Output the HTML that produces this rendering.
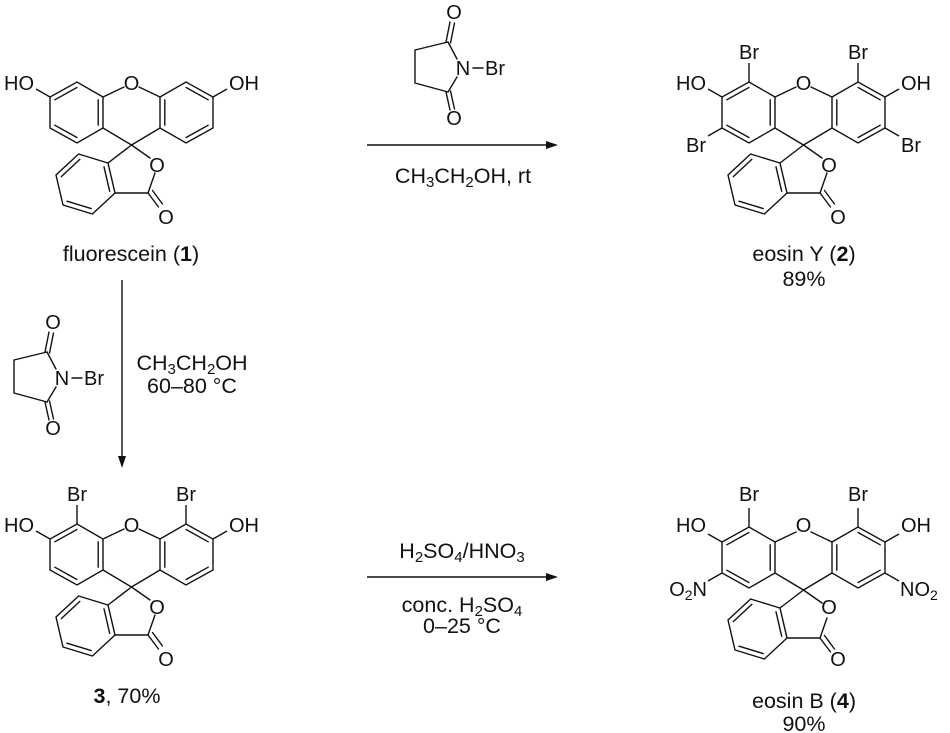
<!DOCTYPE html>
<html><head><meta charset="utf-8"><style>
html,body{margin:0;padding:0;background:#fff;}
svg{display:block;}
text{font-family:"Liberation Sans",sans-serif;font-size:20px;fill:#111;}
.l{font-size:21.5px;}
</style></head><body>
<svg width="950" height="733" viewBox="0 0 950 733" xmlns="http://www.w3.org/2000/svg">
<defs>
<g id="core" stroke="#111" stroke-width="1.4" fill="none" stroke-linecap="round">
<polyline points="103,97 77,82 50,97 50,128 77,143 103,128 103,97"/>
<polyline points="160,97 186,82 213,97 213,128 186,143 160,128 160,97"/>
<line x1="103" y1="97" x2="124" y2="87"/>
<line x1="160" y1="97" x2="139" y2="87"/>
<polyline points="103,128 131.5,145 160,128"/>
<line x1="54.8" y1="99.8" x2="76.9" y2="87.5"/>
<line x1="98.2" y1="99.8" x2="98.2" y2="125.2"/>
<line x1="76.9" y1="137.5" x2="54.8" y2="125.2"/>
<line x1="208.2" y1="99.8" x2="186.1" y2="87.5"/>
<line x1="164.8" y1="99.8" x2="164.8" y2="125.2"/>
<line x1="186.1" y1="137.5" x2="208.2" y2="125.2"/>
<line x1="131.5" y1="145" x2="150" y2="158"/>
<line x1="155" y1="173" x2="148" y2="193"/>
<polyline points="148,193 115,193 108,163 131.5,145"/>
<polyline points="108,163 78.6,154 56,175 63,205 92.4,214 115,193"/>
<line x1="104" y1="166.8" x2="109.7" y2="191.4"/>
<line x1="91.2" y1="208.6" x2="67" y2="201.2"/>
<line x1="61.3" y1="176.6" x2="79.8" y2="159.4"/>
<line x1="148" y1="193" x2="158.5" y2="207"/>
<line x1="152.5" y1="190.5" x2="162.5" y2="204"/>
</g>
<g id="nbs" stroke="#111" stroke-width="1.4" fill="none" stroke-linecap="round">
<line x1="446" y1="42" x2="450" y2="22"/>
<line x1="450.5" y1="43" x2="454.5" y2="23"/>
<line x1="446" y1="92" x2="450" y2="110"/>
<line x1="450.5" y1="91" x2="454.5" y2="109"/>
<line x1="448" y1="42" x2="457" y2="59"/>
<line x1="457" y1="77" x2="448" y2="92"/>
<polyline points="448,92 415,83 415,50 448,42"/>
<line x1="473" y1="68" x2="483" y2="68"/>
</g>
</defs>

<!-- molecule 1 -->
<use href="#core"/>
<line x1="50" y1="97" x2="36" y2="89" stroke="#111" stroke-width="1.4"/>
<line x1="213" y1="97" x2="227" y2="89" stroke="#111" stroke-width="1.4"/>
<text x="34" y="90" text-anchor="end">HO</text>
<text x="229" y="90">OH</text>
<text x="131.5" y="90" text-anchor="middle">O</text>
<text x="157" y="172" text-anchor="middle">O</text>
<text x="166" y="224" text-anchor="middle">O</text>
<text class="l" x="131" y="261" text-anchor="middle">fluorescein (<tspan font-weight="bold">1</tspan>)</text>

<!-- molecule 2 -->
<g transform="translate(672,0)">
<use href="#core"/>
<g stroke="#111" stroke-width="1.4">
<line x1="50" y1="97" x2="36" y2="89"/><line x1="213" y1="97" x2="227" y2="89"/>
<line x1="77" y1="82" x2="77" y2="63"/><line x1="186" y1="82" x2="186" y2="63"/>
<line x1="50" y1="128" x2="36" y2="136"/><line x1="213" y1="128" x2="227" y2="136"/>
</g>
<text x="34" y="90" text-anchor="end">HO</text>
<text x="229" y="90">OH</text>
<text x="77" y="59" text-anchor="middle">Br</text>
<text x="186" y="59" text-anchor="middle">Br</text>
<text x="34" y="152" text-anchor="end">Br</text>
<text x="229" y="152">Br</text>
<text x="131.5" y="90" text-anchor="middle">O</text>
<text x="157" y="172" text-anchor="middle">O</text>
<text x="166" y="224" text-anchor="middle">O</text>
<text class="l" x="132" y="261" text-anchor="middle">eosin Y (<tspan font-weight="bold">2</tspan>)</text>
<text class="l" x="132" y="286" text-anchor="middle">89%</text>
</g>

<!-- molecule 3 -->
<g transform="translate(0,442)">
<use href="#core"/>
<g stroke="#111" stroke-width="1.4">
<line x1="50" y1="97" x2="36" y2="89"/><line x1="213" y1="97" x2="227" y2="89"/>
<line x1="77" y1="82" x2="77" y2="63"/><line x1="186" y1="82" x2="186" y2="63"/>
</g>
<text x="34" y="90" text-anchor="end">HO</text>
<text x="229" y="90">OH</text>
<text x="77" y="59" text-anchor="middle">Br</text>
<text x="186" y="59" text-anchor="middle">Br</text>
<text x="131.5" y="90" text-anchor="middle">O</text>
<text x="157" y="172" text-anchor="middle">O</text>
<text x="166" y="224" text-anchor="middle">O</text>
<text class="l" x="127" y="261" text-anchor="middle"><tspan font-weight="bold">3</tspan>, 70%</text>
</g>

<!-- molecule 4 -->
<g transform="translate(672,445)">
<use href="#core"/>
<g stroke="#111" stroke-width="1.4">
<line x1="50" y1="97" x2="36" y2="89"/><line x1="213" y1="97" x2="227" y2="89"/>
<line x1="77" y1="82" x2="77" y2="63"/><line x1="186" y1="82" x2="186" y2="63"/>
<line x1="50" y1="128" x2="36" y2="136"/><line x1="213" y1="128" x2="227" y2="136"/>
</g>
<text x="34" y="87" text-anchor="end">HO</text>
<text x="229" y="87">OH</text>
<text x="77" y="56" text-anchor="middle">Br</text>
<text x="186" y="56" text-anchor="middle">Br</text>
<text x="35" y="151" text-anchor="end">O<tspan font-size="14" dy="4">2</tspan><tspan dy="-4">N</tspan></text>
<text x="228" y="151">NO<tspan font-size="14" dy="4">2</tspan></text>
<text x="131.5" y="87" text-anchor="middle">O</text>
<text x="157" y="169" text-anchor="middle">O</text>
<text x="166" y="221" text-anchor="middle">O</text>
<text class="l" x="132" y="263" text-anchor="middle">eosin B (<tspan font-weight="bold">4</tspan>)</text>
<text class="l" x="132" y="286" text-anchor="middle">90%</text>
</g>

<!-- top NBS + arrow -->
<use href="#nbs"/>
<text x="454" y="19" text-anchor="middle">O</text>
<text x="463" y="75" text-anchor="middle">N</text>
<text x="485" y="75">Br</text>
<text x="454" y="125" text-anchor="middle">O</text>
<line x1="367" y1="145" x2="550" y2="145" stroke="#111" stroke-width="1.4"/>
<polygon points="558,145 546,141 546,149" fill="#111"/>
<text class="l" x="463" y="183" text-anchor="middle">CH<tspan font-size="15" dy="4">3</tspan><tspan dy="-4">CH</tspan><tspan font-size="15" dy="4">2</tspan><tspan dy="-4">OH, rt</tspan></text>

<!-- vertical NBS + arrow -->
<g transform="translate(-401,310)">
<use href="#nbs"/>
<text x="454" y="19" text-anchor="middle">O</text>
<text x="463" y="75" text-anchor="middle">N</text>
<text x="485" y="75">Br</text>
<text x="454" y="125" text-anchor="middle">O</text>
</g>
<line x1="122" y1="280" x2="122" y2="460" stroke="#111" stroke-width="1.4"/>
<polygon points="122,468 118,456 126,456" fill="#111"/>
<text class="l" x="192" y="370" text-anchor="middle">CH<tspan font-size="15" dy="4">3</tspan><tspan dy="-4">CH</tspan><tspan font-size="15" dy="4">2</tspan><tspan dy="-4">OH</tspan></text>
<text class="l" x="192" y="393" text-anchor="middle">60–80 °C</text>

<!-- bottom arrow -->
<line x1="367" y1="577" x2="550" y2="577" stroke="#111" stroke-width="1.4"/>
<polygon points="558,577 546,573 546,581" fill="#111"/>
<text class="l" x="462" y="558" text-anchor="middle">H<tspan font-size="15" dy="4">2</tspan><tspan dy="-4">SO</tspan><tspan font-size="15" dy="4">4</tspan><tspan dy="-4">/HNO</tspan><tspan font-size="15" dy="4">3</tspan></text>
<text class="l" x="462" y="612" text-anchor="middle">conc. H<tspan font-size="15" dy="4">2</tspan><tspan dy="-4">SO</tspan><tspan font-size="15" dy="4">4</tspan></text>
<text class="l" x="462" y="633" text-anchor="middle">0–25 °C</text>
</svg>
</body></html>
